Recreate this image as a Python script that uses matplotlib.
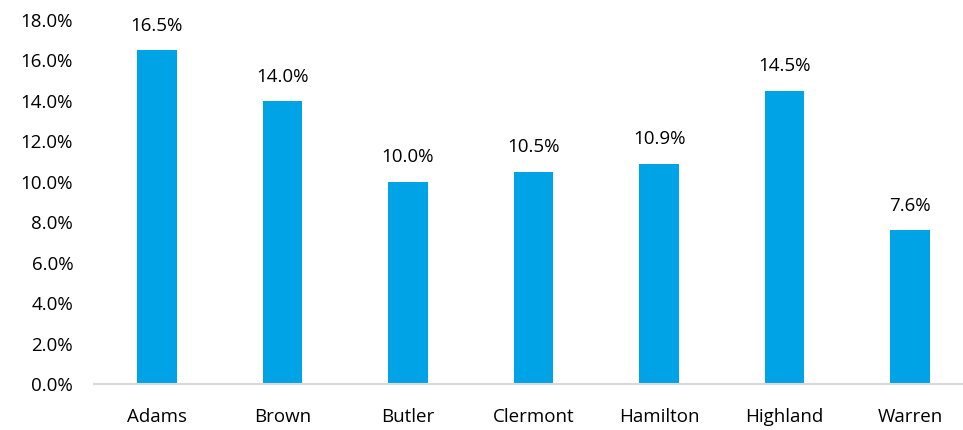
import matplotlib
matplotlib.use("Agg")
import matplotlib.pyplot as plt
from matplotlib.ticker import FuncFormatter

counties = ["Adams", "Brown", "Butler", "Clermont", "Hamilton", "Highland", "Warren"]
rates = [16.5, 14.0, 10.0, 10.5, 10.9, 14.5, 7.6]
yticks = [0, 2, 4, 6, 8, 10, 12, 14, 16, 18]

plt.rcParams["font.family"] = ["Open Sans", "DejaVu Sans"]

fig = plt.figure(figsize=(9.63, 4.30), dpi=100)
ax = fig.add_axes([0.0976, 0.107, 0.9024, 0.8465])

x = range(len(counties))
bars = ax.bar(x, rates, width=0.315, color="#00A3E6")

# value labels above each bar
for b, v in zip(bars, rates):
    ax.annotate(f"{v:.1f}%", (b.get_x() + b.get_width() / 2, v),
                xytext=(0, 11), textcoords="offset points",
                ha="center", va="bottom", fontsize=13.5, color="#000000")

ax.set_xlim(-0.5, 6.42)
ax.set_ylim(0, 18)
ax.set_yticks(yticks)
ax.yaxis.set_major_formatter(FuncFormatter(lambda v, _: f"{v:.1f}%"))
ax.set_xticks(list(x))
ax.set_xticklabels(counties)
ax.tick_params(axis="both", length=0, labelsize=13.5, colors="#000000")
ax.tick_params(axis="y", pad=15)
ax.tick_params(axis="x", pad=17)

for side in ["top", "right", "left"]:
    ax.spines[side].set_visible(False)
ax.spines["bottom"].set_color("#D9D9D9")
ax.spines["bottom"].set_linewidth(1.5)

fig.savefig("out.png", dpi=100)
